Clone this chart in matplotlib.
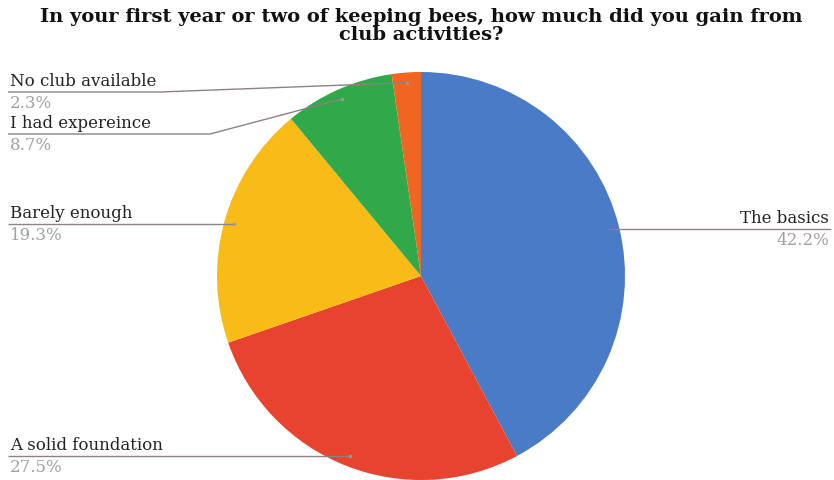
import math
import matplotlib
matplotlib.use("Agg")
import matplotlib.pyplot as plt

# survey answers, clockwise from 12 o'clock
labels = ["The basics", "A solid foundation", "Barely enough",
          "I had expereince", "No club available"]
shares = [42.2, 27.5, 19.3, 8.7, 2.3]
colors = ["#4a7bc6", "#e8432e", "#f9bb16", "#31a94a", "#f0651f"]

title = ("In your first year or two of keeping bees, how much did you gain from\n"
         "club activities?")

W, H = 834, 481
fig = plt.figure(figsize=(W / 100, H / 100), dpi=100)
ax = fig.add_axes([0, 0, 1, 1])

cx, cy, R = 421, H - 277, 204
wedges, _ = ax.pie(shares, colors=colors, startangle=90, counterclock=False,
                   center=(cx, cy), radius=R, wedgeprops=dict(linewidth=0))
ax.set_xlim(0, W)
ax.set_ylim(0, H)
ax.set_aspect("equal")
ax.axis("off")

serif = "DejaVu Serif"
line_col = "#8c8280"
fs = 12

# where each leader line meets its slice
anchors = []
for w in wedges:
    mid = math.radians((w.theta1 + w.theta2) / 2)
    anchors.append((cx + 0.95 * R * math.cos(mid), cy + 0.95 * R * math.sin(mid)))

# left-hand labels: (index, underline y from top or None to follow the slice, elbow x)
left = [(4, 93, 160), (3, 135, 210), (2, None, None), (1, None, None)]
for i, ly, ex in left:
    axx, ayy = anchors[i]
    yl = ayy if ly is None else H - ly
    xs = [8, axx] if ex is None else [8, ex, axx]
    ys = [yl, yl] if ex is None else [yl, yl, ayy]
    ax.plot(xs, ys, color=line_col, lw=1, solid_capstyle="butt")
    ax.plot(axx, ayy, "o", ms=2.5, color="#9a9a9a", mec="none")
    ax.text(10, yl + 3, labels[i], ha="left", va="bottom", fontsize=fs,
            family=serif, color="#222222")
    ax.text(10, yl - 2, f"{shares[i]}%", ha="left", va="top", fontsize=fs,
            family=serif, color="#a0a0a0")

# right-hand label for the big slice
axx, ayy = anchors[0]
ax.plot([axx, 830], [ayy, ayy], color=line_col, lw=1)
ax.text(829, ayy + 3, labels[0], ha="right", va="bottom", fontsize=fs,
        family=serif, color="#222222")
ax.text(829, ayy - 2, f"{shares[0]}%", ha="right", va="top", fontsize=fs,
        family=serif, color="#a0a0a0")

fig.text(421 / W, 1 - 8 / H, title, ha="center", va="top", fontsize=14.0,
         fontweight="bold", family=serif, color="#111111", linespacing=0.98)

fig.savefig("out.png", dpi=100, facecolor="white")
